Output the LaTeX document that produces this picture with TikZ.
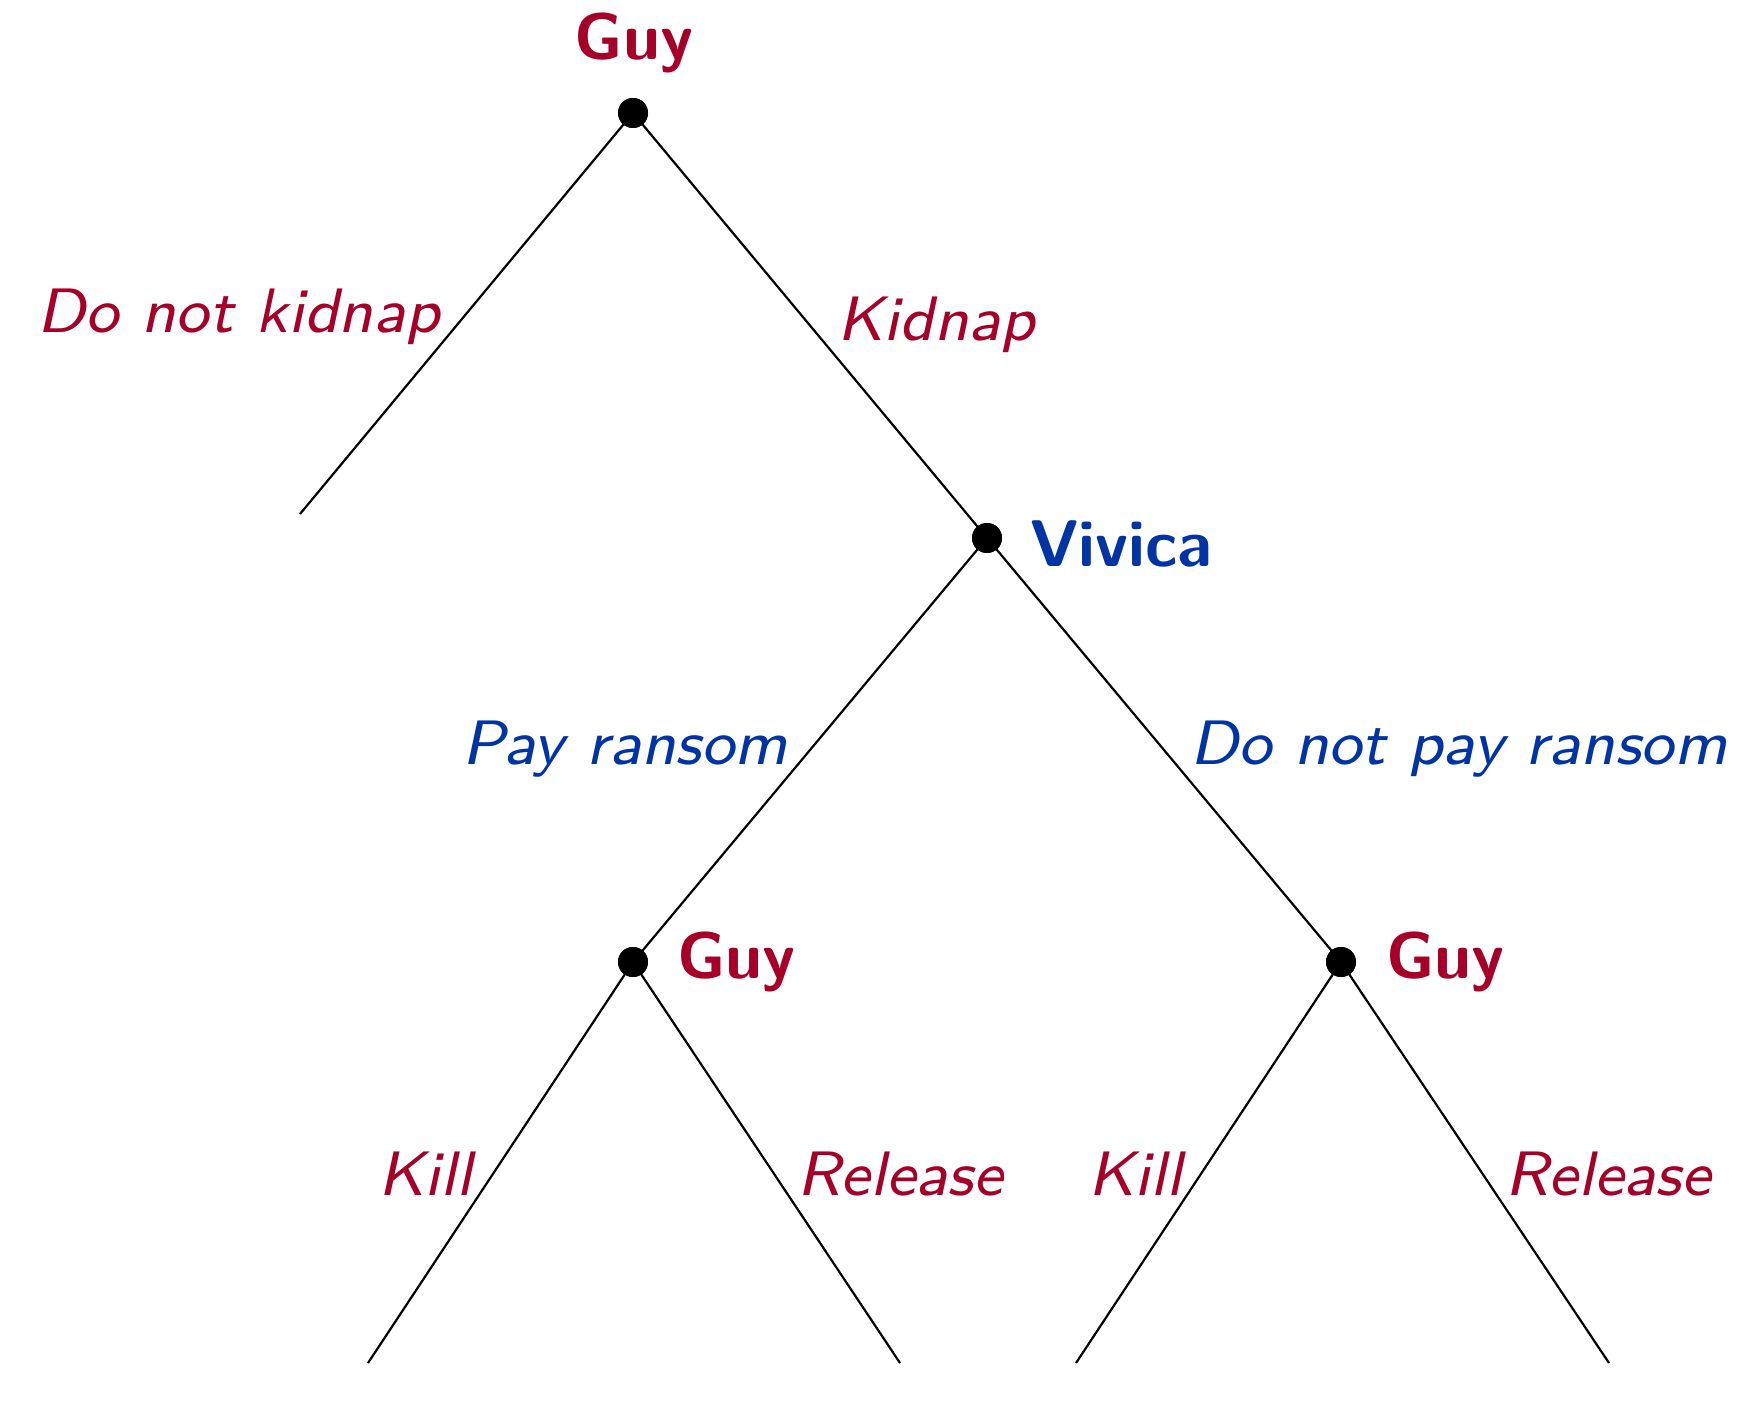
\documentclass[tikz,border=0pt]{standalone}
\usepackage{fontspec}
\newfontfamily\actfont{lmsans8-oblique.otf}
\definecolor{gred}{RGB}{166,0,40}
\definecolor{vblue}{RGB}{0,51,165}
\begin{document}
\begin{tikzpicture}[x=0.5pt,y=-0.5pt,
  dot/.style={circle,fill=black,inner sep=0pt,minimum size=15pt},
  edge/.style={line width=1.1pt},
  player/.style={font=\fontsize{33}{38}\selectfont\sffamily\bfseries,inner sep=0pt},
  act/.style={font=\fontsize{31.4}{38}\selectfont\actfont,inner sep=0pt},
  leaf/.style={inner sep=0pt,minimum size=0pt}]
\useasboundingbox (0,0) rectangle (1758,1412);
\node[dot] (r) at (633,113) {};
\node[dot] (v) at (987,538) {};
\node[dot] (gl) at (633,962) {};
\node[dot] (gr) at (1341,962) {};
\coordinate (l0) at (300,514);
\coordinate (l1) at (368,1363);
\coordinate (l2) at (900,1363);
\coordinate (l3) at (1076,1363);
\coordinate (l4) at (1609,1363);
\draw[edge] (r.center) -- (l0);
\draw[edge] (r.center) -- (v.center);
\draw[edge] (v.center) -- (gl.center);
\draw[edge] (v.center) -- (gr.center);
\draw[edge] (gl.center) -- (l1);
\draw[edge] (gl.center) -- (l2);
\draw[edge] (gr.center) -- (l3);
\draw[edge] (gr.center) -- (l4);
\node[dot] at (r) {};
\node[dot] at (v) {};
\node[dot] at (gl) {};
\node[dot] at (gr) {};
\node[player,text=gred] (pr) at (634,43) {Guy};
\node[player,text=vblue,anchor=west] (pv) at (1030,544) {Vivica};
\node[player,text=gred,anchor=west] (pgl) at (677,962) {Guy};
\node[player,text=gred,anchor=west] (pgr) at (1386,962) {Guy};
\node[act,text=gred,anchor=east] (a1) at (440,317) {Do not kidnap};
\node[act,text=gred,anchor=west] (a2) at (837,325) {Kidnap};
\node[act,text=vblue,anchor=east] (a3) at (788,749) {Pay ransom};
\node[act,text=vblue,anchor=west] (a4) at (1190,749) {Do not pay ransom};
\node[act,text=gred,anchor=east] (a5) at (473,1174) {Kill};
\node[act,text=gred,anchor=west] (a6) at (797,1174) {Release};
\node[act,text=gred,anchor=east] (a7) at (1183,1174) {Kill};
\node[act,text=gred,anchor=west] (a8) at (1505,1174) {Release};
\end{tikzpicture}
\end{document}
